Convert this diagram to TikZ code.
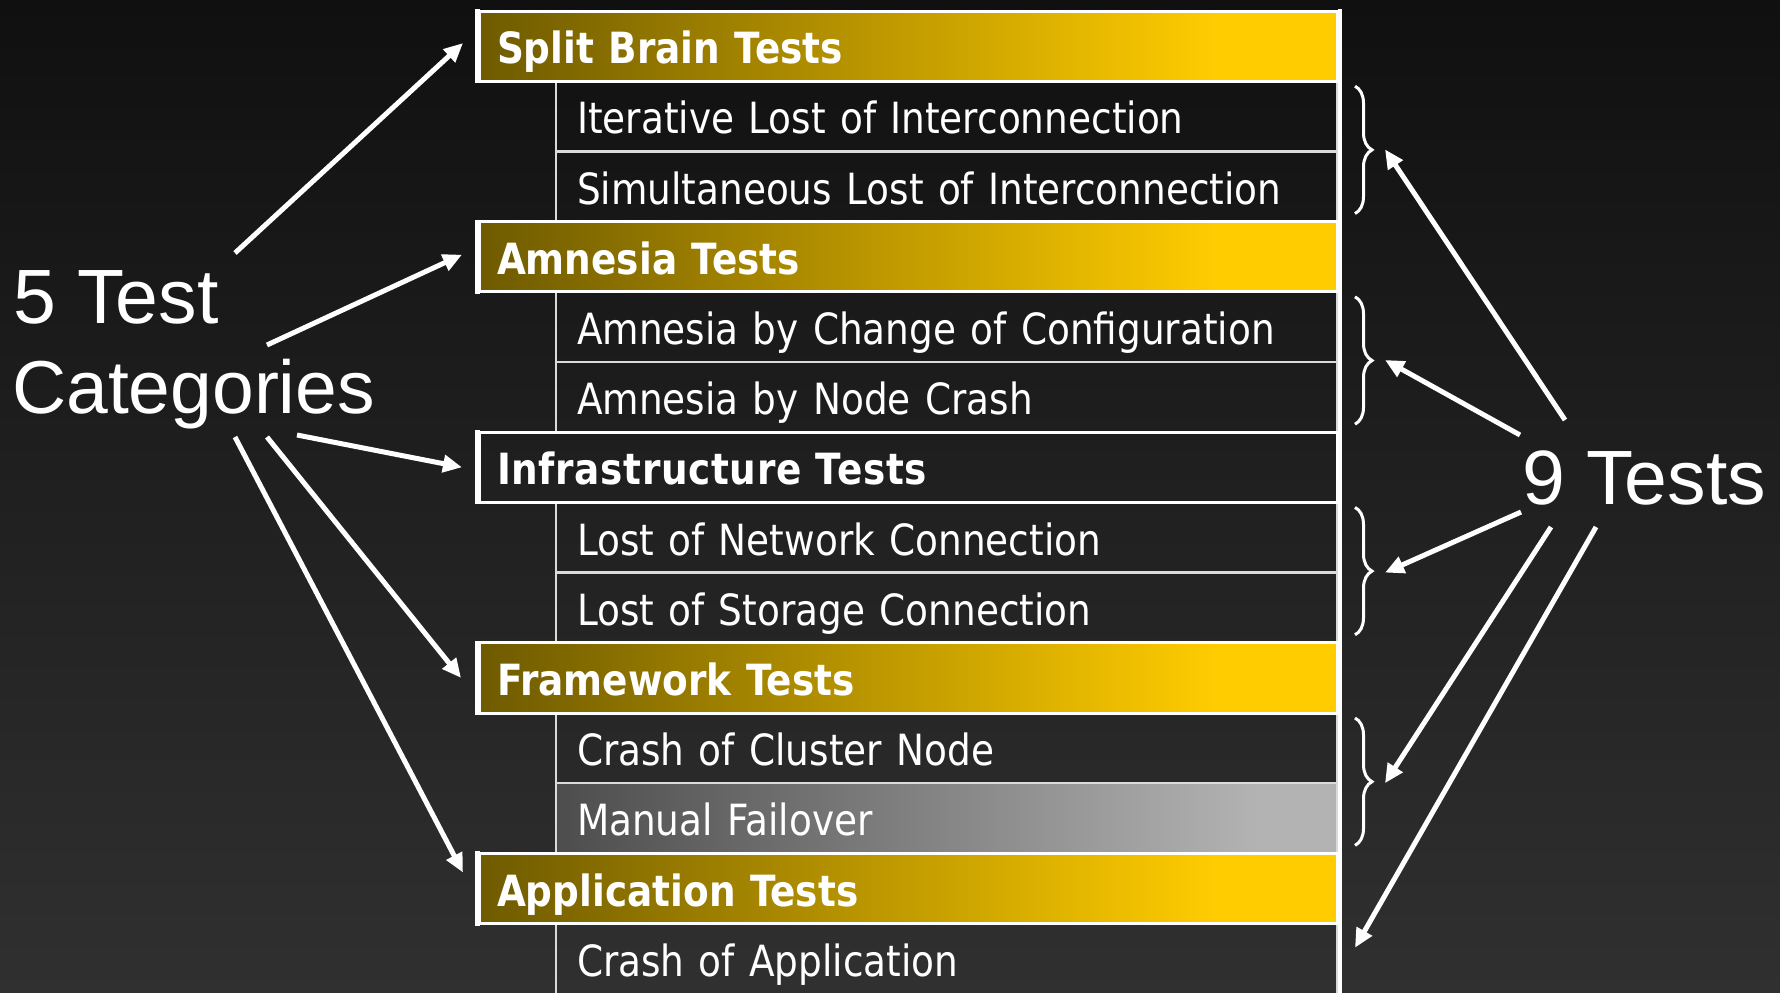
\documentclass[tikz,border=0pt]{standalone}
\usepackage{fontspec}
\usetikzlibrary{arrows.meta,decorations.pathreplacing,calc}
\newfontfamily\tabfont[FakeStretch=0.87]{DejaVu Sans}
\newfontfamily\labfont{Liberation Sans}

\definecolor{hdrL}{HTML}{6E5A00}
\definecolor{hdrR}{HTML}{FFCC00}
\definecolor{mfL}{HTML}{4D4D4D}
\definecolor{mfR}{HTML}{B3B3B3}
\definecolor{bgTop}{HTML}{101010}
\definecolor{bgBot}{HTML}{303030}
\definecolor{rulec}{HTML}{DADADA}

% gold bar for category headers, grey bar for the highlighted test
\pgfdeclarehorizontalshading{goldbar}{100bp}{color(0bp)=(hdrL); color(25bp)=(hdrL); color(68bp)=(hdrR); color(100bp)=(hdrR)}
\pgfdeclarehorizontalshading{greybar}{100bp}{color(0bp)=(mfL); color(25bp)=(mfL); color(70bp)=(mfR); color(100bp)=(mfR)}

\begin{document}
\begin{tikzpicture}[x=1pt,y=-1pt,
  cell/.style={anchor=north west, minimum height=70.2pt, text height=35pt, text depth=0pt,
    align=left, text=white, outer sep=0pt},
  head/.style={cell, minimum width=858pt, inner xsep=18pt, text width=822pt,
    draw=white, line width=3pt, font={\tabfont\bfseries\fontsize{43}{50}\selectfont}},
  gold/.style={head, shading=goldbar},
  sub/.style={cell, minimum width=781pt, inner xsep=21pt, text width=739pt,
    draw=rulec, line width=2.5pt, font={\tabfont\fontsize{43}{50}\selectfont}},
  bar/.style={white, line width=4.5pt},
  brc/.style={white, line width=3pt, decorate, decoration={brace, amplitude=17pt}},
  arr/.style={white, line width=5pt, -{Triangle[length=19pt,width=17pt]}},
  big/.style={text=white, inner sep=0pt, anchor=base west, font={\labfont\fontsize{77}{90}\selectfont}}
]
\useasboundingbox (0,0) rectangle (1780,993);
\fill[top color=bgTop, bottom color=bgBot] (0,0) rectangle (1780,993);

% test rows
\node[sub] (t1) at (556,81.2)  {Iterative Lost of Interconnection};
\node[sub] (t2) at (556,151.4) {Simultaneous Lost of Interconnection};
\node[sub] (t3) at (556,291.8) {Amnesia by Change of Configuration};
\node[sub] (t4) at (556,362)   {Amnesia by Node Crash};
\node[sub] (t5) at (556,502.4) {Lost of Network Connection};
\node[sub] (t6) at (556,572.6) {Lost of Storage Connection};
\node[sub] (t7) at (556,713)   {Crash of Cluster Node};
\node[sub, shading=greybar] (t8) at (556,783.2) {Manual Failover};
\node[sub] (t9) at (556,923.6) {Crash of Application};

% category headers
\node[gold] (h1) at (479,11)    {Split Brain Tests};
\node[gold] (h2) at (479,221.6) {Amnesia Tests};
\node[head] (h3) at (479,432.2) {\addfontfeature{LetterSpace=1.5}Infrastructure Tests};
\node[gold] (h4) at (479,642.8) {Framework Tests};
\node[gold] (h5) at (479,853.4) {Application Tests};

% white bars on the left of each header and the right frame line
\foreach \h in {h1,h2,h3,h4,h5}
  \draw[bar] ([xshift=-1.5pt,yshift=2pt]\h.north west) -- ([xshift=-1.5pt,yshift=-2pt]\h.south west);
\draw[white, line width=4pt] ([xshift=3pt,yshift=2pt]h1.north east) -- ([xshift=3pt,yshift=-3pt]t9.south east);

% braces grouping the pairs of tests
\draw[brc] ([xshift=18pt,yshift=-5pt]t1.north east) -- ([xshift=18pt,yshift=8pt]t2.south east);
\draw[brc] ([xshift=18pt,yshift=-5pt]t3.north east) -- ([xshift=18pt,yshift=8pt]t4.south east);
\draw[brc] ([xshift=18pt,yshift=-5pt]t5.north east) -- ([xshift=18pt,yshift=8pt]t6.south east);
\draw[brc] ([xshift=18pt,yshift=-5pt]t7.north east) -- ([xshift=18pt,yshift=8pt]t8.south east);

% labels
\node[big] (cat1) at (13,323) {5 Test};
\node[big, font={\labfont\fontsize{75}{90}\selectfont}] (cat2) at (12,413) {Categories};
\node[big] (nine) at (1522,504) {9 Tests};

% arrow origins
\coordinate (l1) at (235,253);
\coordinate (l2) at (267,345);
\coordinate (l3) at (297,435);
\coordinate (l4) at (267,437);
\coordinate (l5) at (235,437);
\coordinate (r1) at (1565,420);
\coordinate (r2) at (1520,435);
\coordinate (r3) at (1521,512);
\coordinate (r4) at (1551,527);
\coordinate (r5) at (1596,527);

\draw[arr] (l1) -- ([xshift=-16pt,yshift=3pt]h1.west);
\draw[arr] (l2) -- ([xshift=-17pt,yshift=2pt]h2.west);
\draw[arr] (l3) -- ([xshift=-17pt]h3.west);
\draw[arr] (l4) -- ([xshift=-18pt]h4.west);
\draw[arr] (l5) -- ([xshift=-16pt,yshift=16pt]h5.west);

\draw[arr] (r1) -- ([xshift=48pt,yshift=2pt]t1.south east);
\draw[arr] (r2) -- ([xshift=48pt,yshift=2pt]t3.south east);
\draw[arr] (r3) -- ([xshift=48pt]t5.south east);
\draw[arr] (r4) -- ([xshift=48pt]t7.south east);
\draw[arr] (r5) -- ([xshift=18pt,yshift=11pt]t9.east);
\end{tikzpicture}
\end{document}
